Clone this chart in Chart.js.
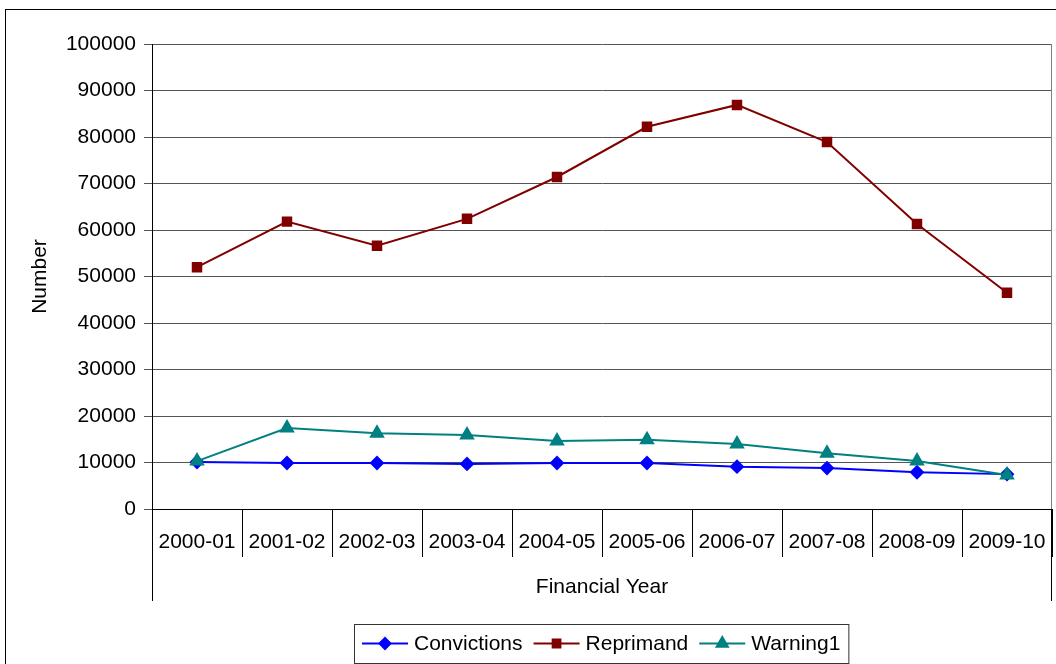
<!DOCTYPE html>
<html>
<head>
<meta charset="utf-8">
<title>Financial Year</title>
<script src="https://cdn.jsdelivr.net/npm/chart.js@4.4.1/dist/chart.umd.min.js"></script>
<style>
  body { margin: 0; background: #fff; }
  canvas { display: block; }
</style>
</head>
<body>
<canvas id="yearChart" width="1056" height="664"></canvas>
<script>
// values
const years = ["2000-01", "2001-02", "2002-03", "2003-04", "2004-05", "2005-06", "2006-07", "2007-08", "2008-09", "2009-10"];
const convictions = [10100, 9900, 9900, 9700, 9900, 9900, 9100, 8800, 7900, 7500];
const reprimands = [52000, 61800, 56600, 62400, 71400, 82200, 86900, 78900, 61300, 46500];
const warnings = [10300, 17400, 16300, 15900, 14600, 14900, 14000, 12000, 10300, 7300];
const yTicks = [0, 10000, 20000, 30000, 40000, 50000, 60000, 70000, 80000, 90000, 100000];

const FONT = "'Liberation Sans', Arial, sans-serif";
Chart.defaults.font.family = FONT;
Chart.defaults.font.size = 21;
Chart.defaults.color = "#000";

// outer border + the long axis lines running down past the category labels
const framePlugin = {
  id: "frame",
  beforeDraw(chart) {
    const ctx = chart.ctx;
    ctx.save();
    ctx.fillStyle = "#fff";
    ctx.fillRect(0, 0, chart.width, chart.height);
    ctx.restore();
  },
  afterDraw(chart) {
    const ctx = chart.ctx;
    const x = chart.scales.x;
    const area = chart.chartArea;
    const left = Math.round(x.left) + 0.5;
    const right = Math.round(x.right) - 0.5;
    ctx.save();
    ctx.lineWidth = 1;
    ctx.strokeStyle = "#000";
    ctx.strokeRect(5.5, 9.5, 1200, 800);

    ctx.strokeStyle = "#808080";
    ctx.beginPath();
    ctx.moveTo(right, area.top);
    ctx.lineTo(right, area.bottom);
    ctx.stroke();

    ctx.strokeStyle = "#000";
    ctx.beginPath();
    ctx.moveTo(left, area.bottom);
    ctx.lineTo(left, 601);
    ctx.moveTo(right, area.bottom);
    ctx.lineTo(right, 601);
    ctx.stroke();
    ctx.restore();
  }
};

// excel style legend: line with marker, inside a box
const legendPlugin = {
  id: "boxLegend",
  afterDraw(chart) {
    const ctx = chart.ctx;
    const sets = chart.data.datasets;
    ctx.save();
    ctx.font = "21px " + FONT;
    ctx.textBaseline = "middle";

    const lineLen = 46, textGap = 6, itemGap = 11;
    let total = 0;
    sets.forEach((ds, i) => {
      total += lineLen + textGap + ctx.measureText(ds.label).width + (i < sets.length - 1 ? itemGap : 0);
    });
    const boxLeft = 354, boxTop = 624, boxH = 39;
    const boxW = total + 16;
    const cy = boxTop + boxH / 2;

    ctx.fillStyle = "#fff";
    ctx.fillRect(boxLeft, boxTop, boxW, boxH);
    ctx.strokeStyle = "#333";
    ctx.lineWidth = 1;
    ctx.strokeRect(boxLeft + 0.5, boxTop + 0.5, boxW, boxH);

    let xPos = boxLeft + 8;
    sets.forEach(ds => {
      ctx.strokeStyle = ds.borderColor;
      ctx.lineWidth = 2;
      ctx.beginPath();
      ctx.moveTo(xPos, cy);
      ctx.lineTo(xPos + lineLen, cy);
      ctx.stroke();
      Chart.helpers.drawPoint(ctx, {
        pointStyle: ds.pointStyle,
        radius: ds.pointRadius - 0.5,
        borderWidth: 1
      }, xPos + lineLen / 2, cy);
      ctx.fillStyle = ds.pointBackgroundColor;
      ctx.strokeStyle = ds.pointBorderColor;
      ctx.fill();
      ctx.fillStyle = "#000";
      ctx.fillText(ds.label, xPos + lineLen + textGap, cy + 1);
      xPos += lineLen + textGap + ctx.measureText(ds.label).width + itemGap;
    });
    ctx.restore();
  }
};

function series(label, data, color, style, radius, order) {
  return {
    label: label,
    data: data,
    order: order,
    borderColor: color,
    backgroundColor: color,
    pointBackgroundColor: color,
    pointBorderColor: color,
    borderWidth: 2,
    pointStyle: style,
    pointRadius: radius,
    pointHoverRadius: radius,
    tension: 0
  };
}

new Chart(document.getElementById("yearChart"), {
  type: "line",
  data: {
    labels: years,
    datasets: [
      // later series sit on top, like the original
      series("Convictions", convictions, "#0000ff", "rectRot", 6, 2),
      series("Reprimand", reprimands, "#800000", "rect", 6, 1),
      series("Warning1", warnings, "#008080", "triangle", 7, 0)
    ]
  },
  options: {
    responsive: false,
    animation: false,
    layout: { autoPadding: false, padding: { top: 44, left: 0, right: 4, bottom: 0 } },
    plugins: {
      legend: { display: false },
      tooltip: { enabled: false }
    },
    scales: {
      x: {
        offset: true,
        afterFit: s => {
          s.height = 155;
          s.paddingLeft = 0;
          s.paddingRight = 0;
        },
        grid: {
          offset: true,
          drawOnChartArea: false,
          tickLength: 48,
          color: "#000"
        },
        border: { display: true, color: "#000" },
        ticks: { padding: -27, maxRotation: 0, autoSkip: false },
        title: {
          display: true,
          text: "Financial Year",
          padding: { top: 0, bottom: 64 }
        }
      },
      y: {
        min: 0,
        max: 100000,
        afterFit: s => { s.width = 152; },
        afterBuildTicks: s => { s.ticks = yTicks.map(v => ({ value: v })); },
        grid: { color: "#555", tickLength: 8 },
        border: { display: true, color: "#000" },
        ticks: { padding: 8, callback: v => String(v) },
        title: {
          display: true,
          text: "Number",
          padding: { top: 28, bottom: 0 }
        }
      }
    }
  },
  plugins: [framePlugin, legendPlugin]
});
</script>
</body>
</html>
